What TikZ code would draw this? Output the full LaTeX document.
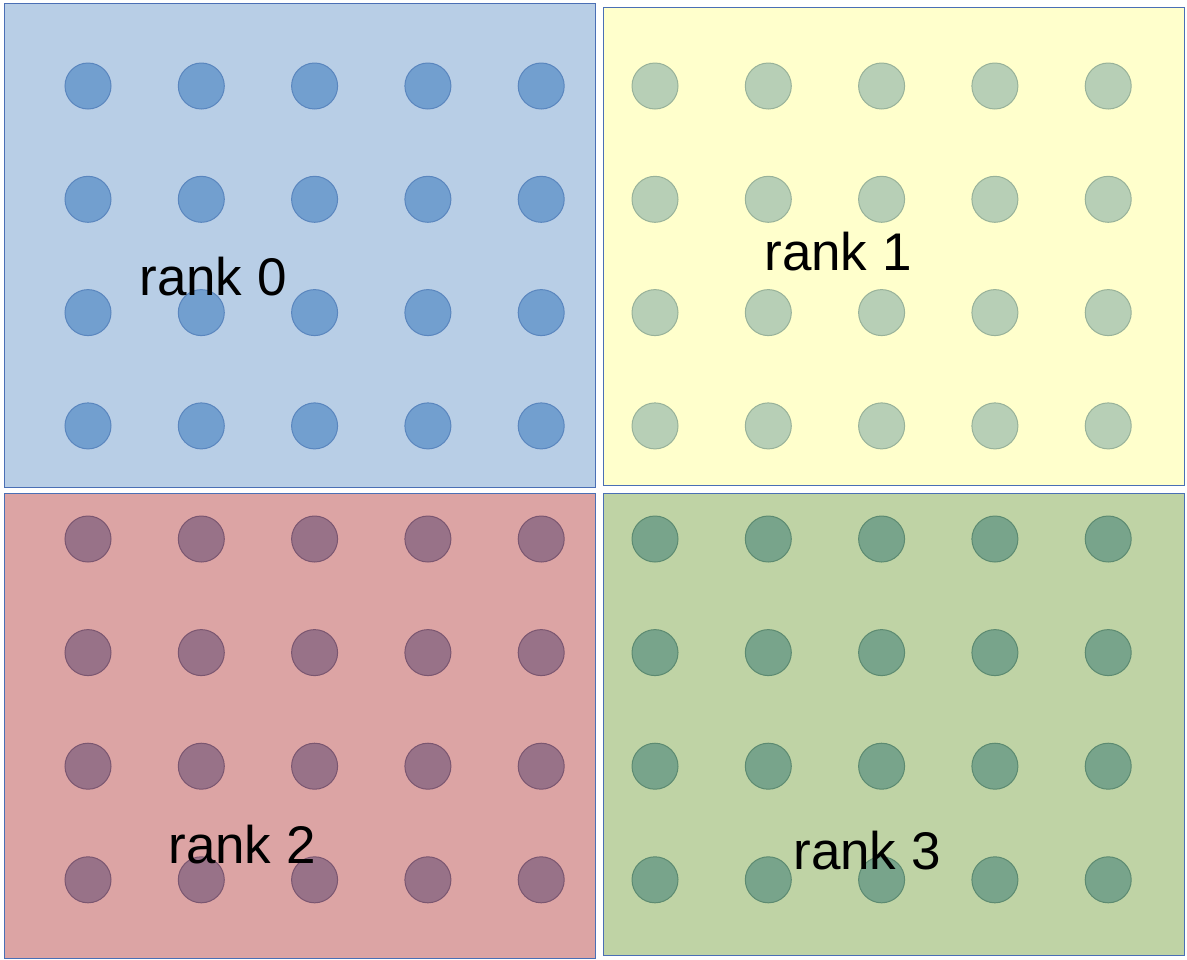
\documentclass[tikz,border=0pt]{standalone}
\usepackage{fontspec}
\setmainfont{Liberation Sans}

\definecolor{boxline}{HTML}{4A6FB5}
\definecolor{fillA}{HTML}{B8CEE6}
\definecolor{dotA}{HTML}{729FCF}
\definecolor{rimA}{HTML}{5A86BE}
\definecolor{fillB}{HTML}{FFFFCC}
\definecolor{dotB}{HTML}{B7CFB6}
\definecolor{rimB}{HTML}{98B29A}
\definecolor{fillC}{HTML}{DCA4A4}
\definecolor{dotC}{HTML}{987288}
\definecolor{rimC}{HTML}{7A5670}
\definecolor{fillD}{HTML}{BFD3A5}
\definecolor{dotD}{HTML}{78A48B}
\definecolor{rimD}{HTML}{5C8A71}

\tikzset{
  rankbox/.style={draw=boxline, line width=0.5pt, inner sep=0pt, minimum width=#1},
  procdot/.style={circle, inner sep=0pt, minimum size=23pt, line width=0.5pt},
  ranklabel/.style={font=\fontsize{26.5}{30}\selectfont, inner sep=0pt}
}

\begin{document}
\begin{tikzpicture}[x=0.5pt, y=-0.5pt]
  \useasboundingbox (0,0) rectangle (1187,959);

  % rank boxes
  \node[rankbox=295.5pt, minimum height=242pt, fill=fillA] (box0) at (299.5,245) {};
  \node[rankbox=290.5pt, minimum height=239pt, fill=fillB] (box1) at (893.5,246) {};
  \node[rankbox=295.5pt, minimum height=232.5pt, fill=fillC] (box2) at (299.5,725.5) {};
  \node[rankbox=290.5pt, minimum height=231pt, fill=fillD] (box3) at (893.5,724) {};

  % processes, 5 x 4 in each rank
  \foreach \i in {0,...,4} {
    \foreach \j in {0,...,3} {
      \node[procdot, fill=dotA, draw=rimA] (p0-\i-\j) at ({88+113.3*\i},{86+113.3*\j}) {};
      \node[procdot, fill=dotB, draw=rimB] (p1-\i-\j) at ({655+113.3*\i},{86+113.3*\j}) {};
      \node[procdot, fill=dotC, draw=rimC] (p2-\i-\j) at ({88+113.3*\i},{539+113.6*\j}) {};
      \node[procdot, fill=dotD, draw=rimD] (p3-\i-\j) at ({655+113.3*\i},{539+113.6*\j}) {};
    }
  }

  % labels
  \node[ranklabel] (lab0) at (213,277) {rank 0};
  \node[ranklabel] (lab1) at (838,252) {rank 1};
  \node[ranklabel] (lab2) at (242,845) {rank 2};
  \node[ranklabel] (lab3) at (867,851) {rank 3};

\end{tikzpicture}
\end{document}
